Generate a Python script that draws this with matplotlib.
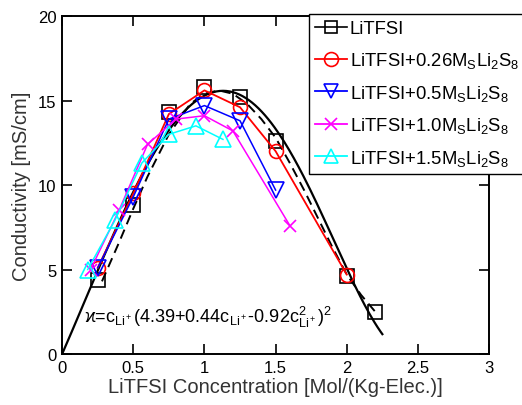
import numpy as np
import matplotlib
matplotlib.use("Agg")
import matplotlib.pyplot as plt
from matplotlib.lines import Line2D

plt.rcParams['font.family'] = ['Liberation Sans', 'DejaVu Sans']
plt.rcParams['mathtext.fontset'] = 'custom'
plt.rcParams['mathtext.rm'] = 'Liberation Sans'
plt.rcParams['mathtext.it'] = 'Liberation Sans'
plt.rcParams['mathtext.default'] = 'regular'

# Data
x_litfsi = [0.25, 0.5, 0.75, 1.0, 1.25, 1.5, 2.0, 2.2]
y_litfsi = [4.35, 8.8, 14.3, 15.8, 15.2, 12.6, 4.6, 2.5]

x_026 = [0.25, 0.5, 0.75, 1.0, 1.25, 1.5, 2.0]
y_026 = [5.1, 9.5, 14.2, 15.6, 14.6, 12.0, 4.7]

x_05 = [0.25, 0.5, 0.75, 1.0, 1.25, 1.5]
y_05 = [5.1, 9.3, 13.9, 14.7, 13.8, 9.7]

x_10 = [0.2, 0.4, 0.6, 0.8, 1.0, 1.2, 1.6]
y_10 = [5.0, 8.5, 12.4, 13.9, 14.1, 13.2, 7.6]

x_15 = [0.18, 0.37, 0.56, 0.75, 0.94, 1.13]
y_15 = [5.0, 7.9, 11.3, 13.0, 13.5, 12.7]

# dashed fit curve
x_dash = [0.28, 0.4, 0.5, 0.6, 0.75, 0.9, 1.0, 1.1, 1.2, 1.3, 1.4, 1.5, 1.6, 1.7, 1.8, 1.9, 2.0, 2.1, 2.2]
y_dash = [4.3, 6.6, 8.6, 10.5, 13.0, 14.8, 15.4, 15.6, 15.4, 14.8, 13.9, 12.8, 11.3, 9.7, 8.0, 6.3, 4.7, 3.5, 2.5]

# solid fit: kappa = c (4.39 + 0.44 c - 0.92 c^2)^2
fit_a, fit_b, fit_c = 4.39, 0.44, -0.92
c_fit = np.linspace(0, 2.25, 200)
k_fit = c_fit * (fit_a + fit_b * c_fit + fit_c * c_fit**2) ** 2

labels = ['LiTFSI',
          r'LiTFSI+0.26M$_S$Li$_2$S$_8$',
          r'LiTFSI+0.5M$_S$Li$_2$S$_8$',
          r'LiTFSI+1.0M$_S$Li$_2$S$_8$',
          r'LiTFSI+1.5M$_S$Li$_2$S$_8$']

fig = plt.figure(figsize=(5.22, 4.06), dpi=100)
ax = fig.add_axes([0.119, 0.1256, 0.818, 0.8325])

ax.plot(c_fit, k_fit, color='black', lw=1.6, zorder=3)
ax.plot(x_dash, y_dash, color='black', lw=1.4, ls=(0, (5, 3)), zorder=3)

ms = 10
ax.plot(x_litfsi, y_litfsi, ls='none', marker='s', ms=ms, mfc='none', mec='black', mew=1.2, zorder=4)
ax.plot(x_026, y_026, color='#ff0000', lw=1.3, marker='o', ms=ms, mfc='none', mew=1.2, zorder=4)
ax.plot(x_05, y_05, color='#0000ff', lw=1.1, marker='v', ms=ms + 1, mfc='none', mew=1.2, zorder=4)
ax.plot(x_10, y_10, color='#ff00ff', lw=1.1, marker='x', ms=ms - 1, mew=1.2, zorder=4)
ax.plot(x_15, y_15, color='#00ffff', lw=1.1, marker='^', ms=ms + 1, mfc='none', mew=1.2, zorder=4)

ax.set_xlim(0, 3)
ax.set_ylim(0, 20)
ax.set_xticks([0, 0.5, 1, 1.5, 2, 2.5, 3])
ax.set_xticklabels(['0', '0.5', '1', '1.5', '2', '2.5', '3'])
ax.set_yticks([0, 5, 10, 15, 20])
ax.tick_params(direction='in', length=7, width=1.2, top=True, right=True, labelsize=12, pad=4)
for s in ax.spines.values():
    s.set_linewidth(1.4)

ax.set_xlabel('LiTFSI Concentration [Mol/(Kg-Elec.)]', fontsize=14.5, color='#333333', labelpad=2)
ax.set_ylabel('Conductivity [mS/cm]', fontsize=14.5, color='#333333', labelpad=5)

ax.text(0.155, 1.9, '\u03f0=c$_{Li^+}$(4.39+0.44c$_{Li^+}$-0.92c$^2_{Li^+}$)$^2$',
        fontsize=13, color='black', zorder=5)

handles = [
    Line2D([], [], color='black', lw=1.2, marker='s', ms=8, mfc='none', mew=1.2),
    Line2D([], [], color='#ff0000', lw=1.3, marker='o', ms=10, mfc='none', mew=1.2),
    Line2D([], [], color='#0000ff', lw=1.3, marker='v', ms=10, mfc='none', mew=1.2),
    Line2D([], [], color='#ff00ff', lw=1.3, marker='x', ms=9, mew=1.2),
    Line2D([], [], color='#00ffff', lw=1.3, marker='^', ms=10, mfc='none', mew=1.2),
]
leg = fig.legend(handles, labels, loc='upper left',
                 bbox_to_anchor=(309 / 522, 1 - 15 / 406), bbox_transform=fig.transFigure,
                 fontsize=13.3, frameon=True, fancybox=False, edgecolor='black',
                 framealpha=1, handlelength=1.7, handletextpad=0.15, borderpad=0.35,
                 labelspacing=0.68, borderaxespad=0)
leg.get_frame().set_linewidth(1.0)

fig.savefig('out.png', dpi=100)
